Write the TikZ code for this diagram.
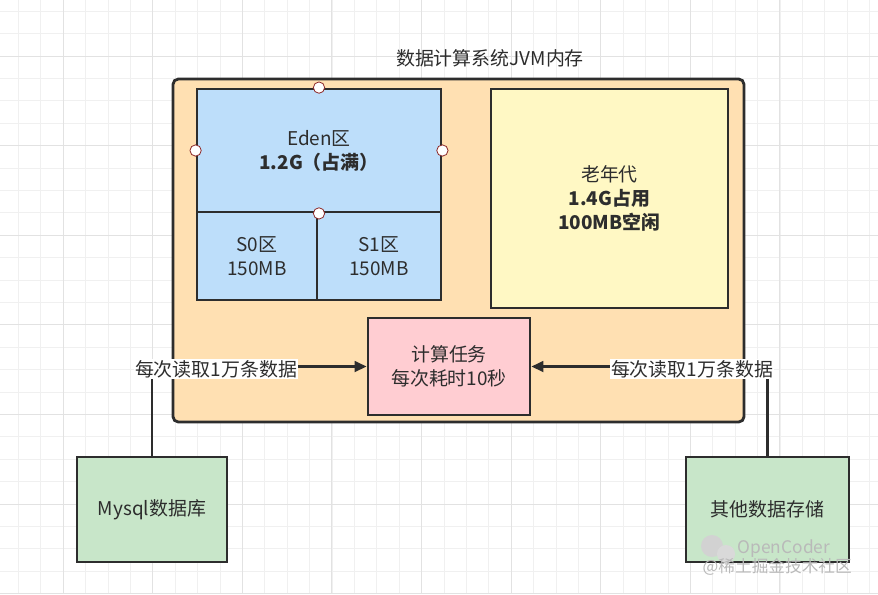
\documentclass[tikz,border=0pt]{standalone}
\usepackage{fontspec}
\setmainfont{Noto Sans CJK SC}
\usetikzlibrary{arrows.meta,positioning}
\definecolor{lineblack}{RGB}{45,45,45}
\definecolor{heapfill}{RGB}{255,224,178}
\definecolor{edenfill}{RGB}{189,222,250}
\definecolor{oldfill}{RGB}{255,248,196}
\definecolor{taskfill}{RGB}{255,205,210}
\definecolor{storefill}{RGB}{200,230,201}
\definecolor{gridminor}{RGB}{240,240,240}
\definecolor{gridmajor}{RGB}{226,226,226}
\definecolor{handlered}{RGB}{140,40,40}

\tikzset{
  box/.style={draw=lineblack, line width=2.1pt, text=lineblack, align=center,
    inner sep=0pt, font=\fontsize{14.2pt}{18pt}\selectfont},
  flow/.style={draw=lineblack, line width=2pt, -{Triangle[length=9pt,width=8pt]}},
  edgelabel/.style={fill=white, text=lineblack, inner sep=1pt,
    font=\fontsize{14.2pt}{18pt}\selectfont},
  handle/.style={circle, draw=handlered, fill=white, line width=0.6pt,
    minimum size=8.5pt, inner sep=0pt}
}

\begin{document}
\begin{tikzpicture}[x=0.75pt, y=-0.75pt]
\useasboundingbox (0,0) rectangle (878,594);
\fill[white] (0,0) rectangle (878,594);
% background grid
\foreach \gx in {0,...,39} \draw[gridminor, line width=0.6pt] (-4.1+22.4*\gx,0) -- (-4.1+22.4*\gx,594);
\foreach \gy in {0,...,26} \draw[gridminor, line width=0.6pt] (0,11.2+22.4*\gy) -- (878,11.2+22.4*\gy);
\foreach \gx in {0,...,9} \draw[gridmajor, line width=0.7pt] (-26.5+89.6*\gx,0) -- (-26.5+89.6*\gx,594);
\foreach \gy in {0,...,6} \draw[gridmajor, line width=0.7pt] (0,56+89.6*\gy) -- (878,56+89.6*\gy);

\node[text=lineblack, font=\fontsize{14.2pt}{18pt}\selectfont] (title) at (490,58) {数据计算系统JVM内存};
\node[box, fill=heapfill, rounded corners=4pt, minimum width=428.25pt, minimum height=257.25pt] (heap) at (458.5,250.5) {};

\node[box, fill=edenfill, minimum width=183pt, minimum height=92.25pt] (eden) at (319,150.5) {Eden区\\\textbf{1.2G（占满）}};
\node[box, fill=edenfill, minimum width=90pt, minimum height=66pt, anchor=north west, yshift=2.1pt] (szero) at (eden.south west) {S0区\\150MB};
\node[box, fill=edenfill, minimum width=93pt, minimum height=66pt, anchor=north east, yshift=2.1pt] (sone) at (eden.south east) {S1区\\150MB};
\node[box, fill=oldfill, minimum width=177.75pt, minimum height=164.25pt] (old) at (609.5,198.5) {老年代\\\textbf{1.4G占用}\\\textbf{100MB空闲}};
\node[box, fill=taskfill, minimum width=121.5pt, minimum height=72.75pt] (task) at (449,366.5) {计算任务\\每次耗时10秒};

\node[box, fill=storefill, minimum width=112.5pt, minimum height=78.75pt] (mysql) at (152,509.5) {Mysql数据库};
\node[box, fill=storefill, minimum width=122.25pt, minimum height=78.75pt] (other) at (767.5,509.5) {其他数据存储};

% reads into the task
\draw[flow] (mysql.north) |- (task.west);
\draw[flow] (other.north) |- (task.east);
\node[edgelabel] (readleft) at (216,369) {每次读取1万条数据};
\node[edgelabel] (readright) at (692,369) {每次读取1万条数据};

% selection handles
\node[handle] at (eden.north) {};
\node[handle] at (eden.west) {};
\node[handle] at (eden.east) {};
\node[handle] at (eden.south) {};

% watermark
\fill[gray!35] (712,546) circle (11);
\fill[gray!30] (726,554) circle (9);
\node[text=gray!55, font=\fontsize{13pt}{15pt}\selectfont, anchor=west] (wmname) at (733,549) {OpenCoder};
\node[text=gray!55, font=\fontsize{12.5pt}{15pt}\selectfont, anchor=west] (wmsite) at (698,567) {@稀土掘金技术社区};
\end{tikzpicture}
\end{document}
